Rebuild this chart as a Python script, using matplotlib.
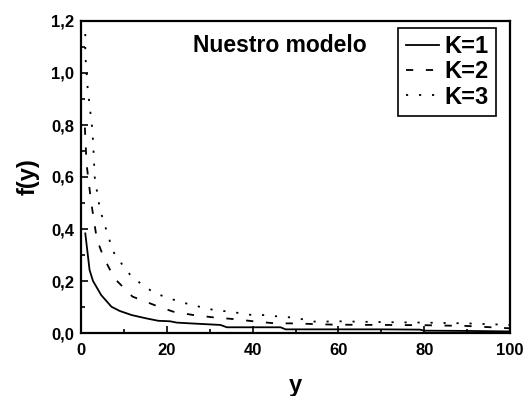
import numpy as np
import matplotlib.pyplot as plt
from matplotlib.ticker import MultipleLocator, FuncFormatter

plt.rcParams['font.family'] = ['Liberation Sans', 'DejaVu Sans']
plt.rcParams['font.weight'] = 'bold'

# K=1 (solid)
y_k1 = [1.0, 2.0, 2.8, 4.7, 7.1, 9.0, 11.8, 15.0, 18.0, 20.8, 22.3, 25.5, 32.5,
        34.0, 46.5, 47.7, 60.0, 70.0, 79.0, 80.0, 90.0, 100.0]
f_k1 = [0.383, 0.242, 0.20, 0.146, 0.101, 0.085, 0.069, 0.057, 0.047, 0.045, 0.040,
        0.037, 0.031, 0.022, 0.022, 0.014, 0.014, 0.014, 0.013, 0.009, 0.008, 0.006]

# K=2 (dashed)
y_k2 = [0.9, 1.3, 1.8, 2.4, 3.7, 5.3, 7.8, 12.0, 17.5, 21.5, 26.2, 30.9, 36.0,
        40.7, 45.3, 50.0, 54.7, 59.3, 70.0, 80.0, 90.0, 100.0]
f_k2 = [0.79, 0.65, 0.58, 0.50, 0.36, 0.29, 0.21, 0.14, 0.105, 0.082, 0.069, 0.060,
        0.053, 0.044, 0.037, 0.037, 0.034, 0.032, 0.031, 0.030, 0.027, 0.018]

# K=3 (dotted)
y_k3 = [1.0, 1.0, 1.4, 1.6, 2.0, 2.3, 2.6, 2.8, 3.2, 4.1, 4.7, 6.5, 7.5, 9.4, 11.5,
        14.3, 17.2, 20.2, 23.0, 25.9, 28.6, 31.7, 34.4, 37.1, 39.9, 43.0, 45.7,
        48.8, 51.6, 54.3, 57.4, 60.0, 70.0, 80.0, 90.0, 100.0]
f_k3 = [1.15, 1.07, 0.98, 0.93, 0.88, 0.83, 0.79, 0.74, 0.60, 0.505, 0.46, 0.365,
        0.313, 0.268, 0.223, 0.185, 0.153, 0.136, 0.12, 0.108, 0.097, 0.086, 0.083,
        0.076, 0.069, 0.069, 0.064, 0.060, 0.053, 0.044, 0.044, 0.045, 0.042, 0.040,
        0.037, 0.031]

labels = ['K=1', 'K=2', 'K=3']

fig = plt.figure(figsize=(5.25, 3.96), dpi=100)
ax = fig.add_axes([81 / 525, 63 / 396, 429 / 525, 312 / 396])

lw = 1.3
ax.plot(y_k1, f_k1, color='black', lw=lw, label=labels[0])
ax.plot(y_k2, f_k2, color='black', lw=lw, dashes=(4.0, 7.0), label=labels[1])
ax.plot(y_k3, f_k3, color='black', lw=lw, dashes=(1.2, 6.0), label=labels[2])

ax.set_xlim(0, 100)
ax.set_ylim(0, 1.2)
ax.xaxis.set_major_locator(MultipleLocator(20))
ax.xaxis.set_minor_locator(MultipleLocator(10))
ax.yaxis.set_major_locator(MultipleLocator(0.2))
ax.yaxis.set_minor_locator(MultipleLocator(0.1))
ax.yaxis.set_major_formatter(FuncFormatter(lambda v, p: f"{v:.1f}".replace('.', ',')))

ax.tick_params(which='both', direction='in', top=False, right=False,
               labelsize=12, width=1.2)
ax.tick_params(which='major', length=5, pad=5)
ax.tick_params(which='minor', length=3)
ax.tick_params(axis='x', which='major', pad=7)
for s in ax.spines.values():
    s.set_linewidth(1.6)

ax.set_xlabel('y', fontsize=17, fontweight='bold', labelpad=12)
ax.set_ylabel('f(y)', fontsize=17, fontweight='bold', labelpad=8)

ax.text(0.261, 0.90, 'Nuestro modelo', transform=ax.transAxes,
        fontsize=16.5, fontweight='bold', va='baseline', ha='left')

leg = ax.legend(loc='upper right', bbox_to_anchor=(0.967, 0.978), borderaxespad=0,
                fontsize=17, frameon=True, fancybox=False, handlelength=1.4,
                handletextpad=0.25, labelspacing=0.1, borderpad=0.3)
leg.get_frame().set_edgecolor('black')
leg.get_frame().set_linewidth(1.2)
leg.get_frame().set_alpha(1)

fig.savefig('out.png', dpi=100)
